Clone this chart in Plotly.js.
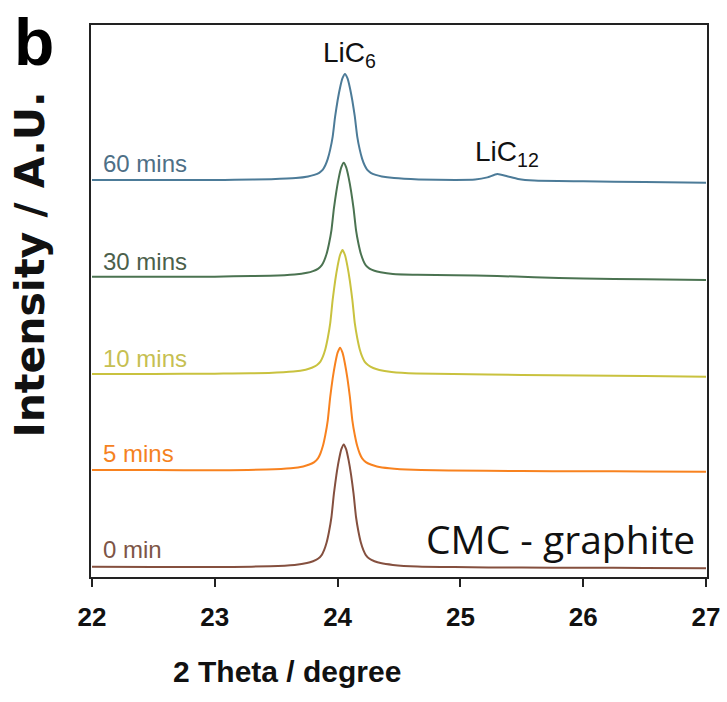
<!DOCTYPE html>
<html>
<head>
<meta charset="utf-8">
<script src="https://cdn.plot.ly/plotly-3.0.1.min.js"></script>
<style>
html,body{margin:0;padding:0;background:#fff;}
#chart{width:727px;height:702px;}
</style>
</head>
<body>
<div id="chart"></div>
<script>
// ---- data (2 Theta in degree, intensity in A.U. incl. stacking offset) ----
const seriesNames = ['0 min', '5 mins', '10 mins', '30 mins', '60 mins'];

const x0min = [22.0, 22.5, 23.0, 23.15, 23.45, 23.65, 23.75, 23.80, 23.84, 23.87, 23.89, 23.91, 23.93, 23.95, 23.97, 23.99, 24.01, 24.03, 24.05, 24.07, 24.09, 24.11, 24.13, 24.15, 24.17, 24.19, 24.21, 24.23, 24.26, 24.30, 24.35, 24.45, 24.65, 24.95, 25.5, 26.0, 26.5, 27.0];
const y0min = [10.3, 10.1, 10.0, 10.1, 10.7, 12.1, 13.9, 15.8, 18.2, 21.9, 26.8, 34.2, 45.3, 60.0, 83.4, 101.9, 116.6, 127.7, 132.6, 127.7, 116.6, 101.9, 83.4, 60.0, 45.3, 34.2, 26.8, 21.9, 18.2, 15.8, 13.9, 12.1, 10.5, 9.9, 9.4, 9.3, 9.0, 8.7];

const x5min = [22.0, 22.5, 23.0, 23.12, 23.42, 23.62, 23.72, 23.77, 23.81, 23.84, 23.86, 23.88, 23.90, 23.92, 23.94, 23.96, 23.98, 24.00, 24.02, 24.04, 24.06, 24.08, 24.10, 24.12, 24.14, 24.16, 24.18, 24.20, 24.23, 24.27, 24.32, 24.42, 24.62, 24.92, 25.5, 26.0, 26.5, 27.0];
const y5min = [107.0, 106.9, 106.7, 106.8, 107.4, 108.8, 110.6, 112.5, 114.9, 118.6, 123.5, 130.9, 142.0, 156.7, 180.1, 198.6, 213.3, 224.4, 229.3, 224.4, 213.3, 198.6, 180.1, 156.7, 142.0, 130.9, 123.5, 118.6, 114.9, 112.5, 110.6, 108.8, 107.2, 106.6, 105.9, 105.8, 105.6, 105.3];

const x10min = [22.0, 22.5, 23.0, 23.14, 23.44, 23.64, 23.74, 23.79, 23.83, 23.86, 23.88, 23.90, 23.92, 23.94, 23.96, 23.98, 24.00, 24.02, 24.04, 24.06, 24.08, 24.10, 24.12, 24.14, 24.16, 24.18, 24.20, 24.22, 24.25, 24.29, 24.34, 24.44, 24.64, 24.94, 25.5, 26.0, 26.5, 27.0];
const y10min = [203.0, 203.1, 203.3, 203.5, 204.1, 205.5, 207.3, 209.2, 211.7, 215.4, 220.4, 227.8, 239.0, 253.8, 277.4, 296.0, 310.9, 322.0, 327.0, 322.0, 310.9, 296.0, 277.4, 253.8, 239.0, 227.8, 220.4, 215.4, 211.7, 209.0, 207.0, 205.1, 203.6, 202.9, 202.0, 201.5, 200.9, 200.3];

const x30min = [22.0, 22.5, 23.0, 23.15, 23.45, 23.65, 23.75, 23.80, 23.84, 23.87, 23.89, 23.91, 23.93, 23.95, 23.97, 23.99, 24.01, 24.03, 24.05, 24.07, 24.09, 24.11, 24.13, 24.15, 24.17, 24.19, 24.21, 24.23, 24.26, 24.30, 24.35, 24.45, 24.65, 24.95, 25.3, 25.6, 26.0, 26.5, 27.0];
const y30min = [300.3, 300.2, 300.2, 300.7, 301.2, 302.5, 304.2, 305.9, 308.2, 311.6, 316.2, 323.0, 333.3, 346.9, 368.6, 385.7, 399.4, 409.6, 414.2, 409.6, 399.4, 385.7, 368.6, 346.9, 333.3, 323.0, 316.2, 311.6, 308.4, 306.3, 304.8, 303.1, 302.3, 301.8, 301.0, 299.8, 298.5, 297.7, 297.0];

const x60min = [22.0, 22.5, 23.0, 23.16, 23.46, 23.66, 23.76, 23.81, 23.85, 23.88, 23.90, 23.92, 23.94, 23.96, 23.98, 24.00, 24.02, 24.04, 24.06, 24.08, 24.10, 24.12, 24.14, 24.16, 24.18, 24.20, 24.22, 24.24, 24.27, 24.31, 24.36, 24.46, 24.66, 24.96, 25.12, 25.22, 25.30, 25.38, 25.47, 25.6, 26.0, 26.5, 27.0];
const y60min = [397.0, 397.0, 397.0, 397.2, 397.8, 398.9, 400.5, 402.1, 404.2, 407.4, 411.7, 418.1, 427.6, 440.4, 460.6, 476.5, 489.3, 498.8, 503.1, 498.8, 489.3, 476.5, 460.6, 440.4, 427.6, 418.1, 411.7, 407.4, 404.2, 402.1, 400.5, 398.9, 397.6, 397.0, 397.4, 399.6, 403.0, 400.8, 398.0, 396.4, 395.7, 395.0, 394.3];

const xTicks = [22, 23, 24, 25, 26, 27];
const xTickText = ['22', '23', '24', '25', '26', '27'];

// ---- styling ----
const lineColors = ['#85503f', '#f8821f', '#c9c23f', '#4b7351', '#4c7b98'];
const textColors = ['#7d5546', '#f5821f', '#c6bf52', '#4b604b', '#4e6f86'];
const xs = [x0min, x5min, x10min, x30min, x60min];
const ys = [y0min, y5min, y10min, y30min, y60min];

const traces = seriesNames.map((name, i) => ({
  type: 'scatter', mode: 'lines', name: name,
  x: xs[i], y: ys[i],
  line: {color: lineColors[i], width: 2, shape: 'spline', smoothing: 0.5},
  hoverinfo: 'x+y+name'
}));

const labelY = [28, 123.5, 218.5, 315.5, 413.5];
const annotations = seriesNames.map((name, i) => ({
  text: name, xref: 'x', yref: 'y', x: 22.07, y: labelY[i],
  xanchor: 'left', yanchor: 'middle', showarrow: false,
  font: {family: 'Liberation Sans, Arial, sans-serif', size: 24, color: textColors[i]}
}));

annotations.push(
  {text: 'LiC<sub>6</sub>', xref: 'x', yref: 'y', x: 24.098, y: 523, xanchor: 'center', yanchor: 'middle', showarrow: false,
   font: {family: 'Liberation Sans, Arial, sans-serif', size: 28, color: '#111'}},
  {text: 'LiC<sub>12</sub>', xref: 'x', yref: 'y', x: 25.376, y: 424, xanchor: 'center', yanchor: 'middle', showarrow: false,
   font: {family: 'Liberation Sans, Arial, sans-serif', size: 28, color: '#111'}},
  {text: 'CMC - graphite', xref: 'x', yref: 'y', x: 26.93, y: 39, xanchor: 'right', yanchor: 'middle', showarrow: false,
   font: {family: 'Open Sans, sans-serif', size: 39, color: '#111'}},
  {text: 'b', xref: 'paper', yref: 'paper', x: -0.0925, y: 0.969, xanchor: 'center', yanchor: 'middle', showarrow: false,
   font: {family: 'Liberation Sans, Arial, sans-serif', size: 66, weight: 'bold', color: '#000'}},
  {text: 'Intensity / A.U.', xref: 'paper', yref: 'paper', x: -0.099, y: 0.566, xanchor: 'center', yanchor: 'middle',
   textangle: -90, showarrow: false,
   font: {family: 'DejaVu Sans, sans-serif', size: 41, weight: 'bold', color: '#111'}},
  {text: '2 Theta / degree', xref: 'paper', yref: 'paper', x: 0.3174, y: -0.172, xanchor: 'center', yanchor: 'middle', showarrow: false,
   font: {family: 'Liberation Sans, Arial, sans-serif', size: 30, weight: 'bold', color: '#111'}}
);

const layout = {
  width: 727, height: 702,
  margin: {l: 91, r: 20, t: 25, b: 125, pad: 0},
  paper_bgcolor: '#fff', plot_bgcolor: '#fff',
  showlegend: false,
  xaxis: {
    range: [21.992, 27.008], tickvals: xTicks, ticktext: xTickText,
    ticks: 'outside', ticklen: 8, tickwidth: 2, tickcolor: '#222',
    ticklabelstandoff: 8,
    showline: true, linewidth: 2, linecolor: '#222', mirror: true,
    showgrid: false, zeroline: false, fixedrange: true,
    tickfont: {family: 'Liberation Sans, Arial, sans-serif', size: 26, weight: 'bold', color: '#111'}
  },
  yaxis: {
    range: [0, 552], showticklabels: false, ticks: '',
    showline: true, linewidth: 2, linecolor: '#222', mirror: true,
    showgrid: false, zeroline: false, fixedrange: true
  },
  annotations: annotations
};

Plotly.newPlot('chart', traces, layout, {displayModeBar: false});
</script>
</body>
</html>
